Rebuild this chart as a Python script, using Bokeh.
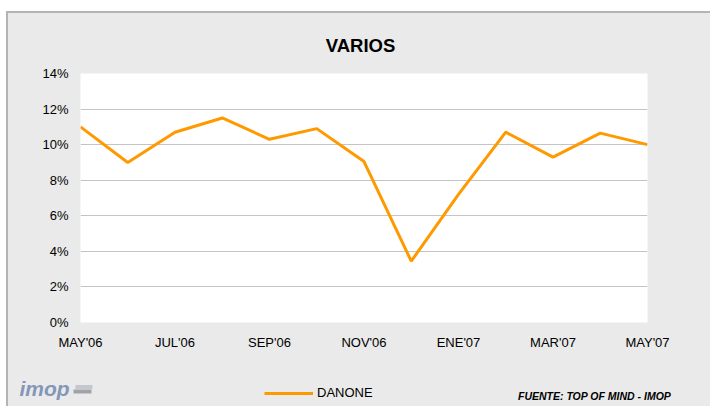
from bokeh.plotting import figure
from bokeh.layouts import column
from bokeh.models import (FixedTicker, PrintfTickFormatter, Legend, LegendItem, Label, Range1d)
from bokeh.embed import file_html
from bokeh.resources import INLINE

# ---- data ----
months = ["MAY'06", "JUN'06", "JUL'06", "AGO'06", "SEP'06", "OCT'06", "NOV'06",
          "DIC'06", "ENE'07", "FEB'07", "MAR'07", "ABR'07", "MAY'07"]
danone = [11.0, 9.0, 10.7, 11.5, 10.3, 10.9, 9.05, 3.45, 7.2, 10.7, 9.3, 10.65, 10.0]
tick_positions = [0, 2, 4, 6, 8, 10, 12]
y_ticks = [0, 2, 4, 6, 8, 10, 12, 14]
grid_ticks = [2, 4, 6, 8, 10, 12]
title_text = "VARIOS"
series_name = "DANONE"
source_text = "FUENTE: TOP OF MIND - IMOP"
logo_text = "imop"

x_idx = list(range(len(months)))

FONT = "Liberation Sans"
BG = "#eaeaea"
ORANGE = "#FF9900"
W = 702


def no_align(f):
    try:
        f.frame_align = False
    except Exception:
        pass


def strip_fig(h):
    f = figure(width=W, height=h, x_range=Range1d(0, W), y_range=Range1d(h, 0),
               output_backend="svg", toolbar_location=None, min_border=0,
               x_axis_type=None, y_axis_type=None)
    f.background_fill_color = BG
    f.border_fill_color = BG
    f.outline_line_color = None
    no_align(f)
    return f


# ---- header with title ----
header = strip_fig(50)
header.add_layout(Label(x=352, y=32.3, text=title_text, text_font=FONT, text_font_size="18.5px",
                        text_font_style="bold", text_align="center", text_baseline="middle",
                        text_color="black"))

# ---- main chart ----
p = figure(width=W, height=289, output_backend="svg", toolbar_location=None,
           x_range=(0, 12), y_range=(0, 14),
           min_border_left=72, min_border_right=63, min_border_top=10, min_border_bottom=30)
p.border_fill_color = BG
p.background_fill_color = "white"
p.outline_line_color = None
no_align(p)

r = p.line(x_idx, danone, line_color=ORANGE, line_width=3)

p.xaxis.ticker = FixedTicker(ticks=tick_positions)
p.xaxis.major_label_overrides = {i: months[i] for i in tick_positions}
p.yaxis.ticker = FixedTicker(ticks=y_ticks)
p.yaxis.formatter = PrintfTickFormatter(format="%d%%")
for ax in (p.xaxis[0], p.yaxis[0]):
    ax.axis_line_color = None
    ax.major_tick_line_color = None
    ax.minor_tick_line_color = None
    ax.major_tick_out = 0
    ax.major_tick_in = 0
    ax.minor_tick_out = 0
    ax.major_label_text_font = FONT
    ax.major_label_text_font_size = "13px"
    ax.major_label_text_color = "black"
    ax.major_label_standoff = 12

p.xgrid.visible = False
p.ygrid.ticker = FixedTicker(ticks=grid_ticks)
p.ygrid.grid_line_color = "#c4c4c4"
p.ygrid.grid_line_width = 1

# ---- footer: legend, logo, source ----
footer = strip_fig(54)
# legend key line kept outside the visible strip; only its legend swatch shows
key = footer.line(x=[W + 10, W + 20], y=[0, 0], line_color=ORANGE, line_width=3)
legend = Legend(items=[LegendItem(label=series_name, renderers=[key])],
                location=(256, 5.5), orientation="horizontal",
                glyph_width=49, glyph_height=16, label_height=16, label_standoff=4,
                padding=0, margin=0, spacing=0,
                border_line_color=None, background_fill_alpha=0,
                label_text_font=FONT, label_text_font_size="13px",
                label_text_baseline="middle", label_text_color="black")
footer.add_layout(legend, "center")

footer.add_layout(Label(x=662.7, y=43.3, text=source_text, text_font=FONT,
                        text_font_size="10.5px", text_font_style="bold italic",
                        text_align="right", text_baseline="middle", text_color="black"))

footer.add_layout(Label(x=11, y=36, text=logo_text, text_font=FONT, text_font_size="21px",
                        text_font_style="bold italic", text_align="left",
                        text_baseline="middle", text_color="#8497b8"))
footer.quad(left=[67], right=[84], top=[32.5], bottom=[36.5], fill_color="#c4c8ce", line_color=None)
footer.quad(left=[65], right=[83], top=[37], bottom=[41], fill_color="#9fa4ab", line_color=None)

layout = column(header, p, footer, spacing=0)
layout.styles = {"border-top": "2px solid #b4b4b4", "border-left": "2px solid #b4b4b4",
                 "margin-top": "11px", "margin-left": "6px", "background-color": BG}

open("out.html", "w").write(file_html(layout, INLINE))
